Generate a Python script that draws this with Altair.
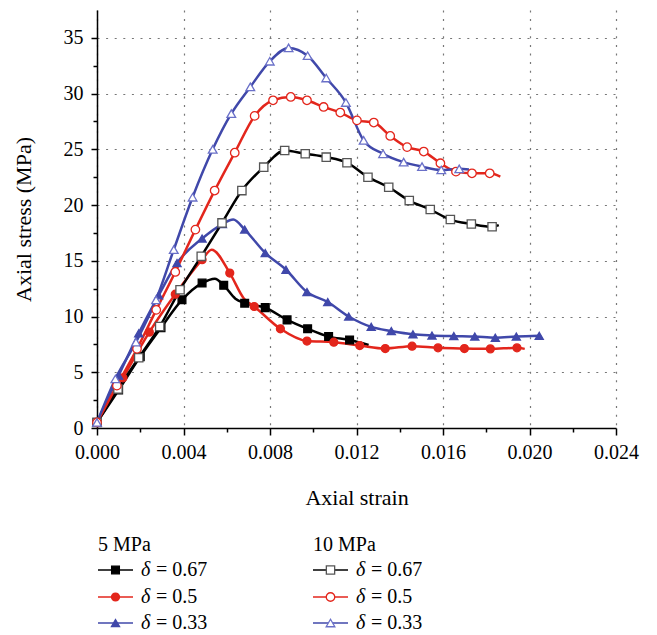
import altair as alt
import pandas as pd

# ---- data (strain, stress MPa); m = 1 where a marker is drawn
s5_067_x = [0.0, 0.001, 0.002, 0.00296, 0.00393, 0.00486, 0.00545, 0.00586, 0.0064, 0.00683, 0.00778, 0.00879, 0.00974, 0.01071, 0.01168, 0.01256]
s5_067_y = [0.5, 3.4, 6.4, 9.0, 11.5, 13.0, 13.4, 12.8, 11.6, 11.2, 10.8, 9.7, 8.9, 8.2, 7.9, 7.45]
s5_067_m = [1, 1, 1, 1, 1, 1, 0, 1, 0, 1, 1, 1, 1, 1, 1, 0]

s5_05_x = [0.0, 0.0012, 0.00242, 0.00362, 0.00486, 0.0053, 0.00614, 0.0068, 0.00727, 0.00848, 0.00971, 0.01095, 0.01215, 0.01333, 0.01457, 0.01577, 0.01699, 0.01819, 0.01942, 0.01978]
s5_05_y = [0.5, 4.5, 8.6, 12.0, 15.1, 16.0, 13.9, 11.6, 10.9, 8.9, 7.8, 7.7, 7.4, 7.13, 7.34, 7.19, 7.13, 7.1, 7.19, 7.1]
s5_05_m = [1, 1, 1, 1, 1, 0, 1, 0, 1, 1, 1, 1, 1, 1, 1, 1, 1, 1, 1, 0]

s5_033_x = [0.0, 0.001, 0.00193, 0.00285, 0.0037, 0.00486, 0.0058, 0.0063, 0.00683, 0.00778, 0.00874, 0.00971, 0.01067, 0.01164, 0.01268, 0.01361, 0.01461, 0.01549, 0.0165, 0.01747, 0.01842, 0.01939, 0.02045]
s5_033_y = [0.5, 4.7, 8.5, 11.9, 14.8, 17.0, 18.3, 18.7, 17.8, 15.7, 14.2, 12.2, 11.3, 10.0, 9.07, 8.7, 8.4, 8.3, 8.24, 8.2, 8.1, 8.2, 8.27]
s5_033_m = [1, 1, 1, 1, 1, 1, 1, 0, 1, 1, 1, 1, 1, 1, 1, 1, 1, 1, 1, 1, 1, 1, 1]

s10_067_x = [0.0, 0.00097, 0.00193, 0.0029, 0.00384, 0.00482, 0.00578, 0.0067, 0.00771, 0.00868, 0.00963, 0.0106, 0.01156, 0.01253, 0.01349, 0.01444, 0.01541, 0.01634, 0.01731, 0.01827, 0.01858]
s10_067_y = [0.5, 3.5, 6.3, 9.1, 12.4, 15.4, 18.4, 21.3, 23.4, 24.9, 24.6, 24.3, 23.8, 22.5, 21.6, 20.4, 19.6, 18.7, 18.3, 18.05, 18.2]
s10_067_m = [1] * 20 + [0]

s10_05_x = [0.0, 0.00092, 0.00185, 0.00274, 0.00362, 0.00455, 0.00544, 0.00637, 0.00729, 0.00814, 0.00896, 0.00971, 0.01048, 0.01125, 0.01202, 0.0128, 0.01356, 0.01434, 0.01511, 0.01588, 0.0166, 0.01734, 0.01816, 0.01865]
s10_05_y = [0.5, 3.8, 7.1, 10.6, 14.0, 17.8, 21.3, 24.7, 28.0, 29.4, 29.7, 29.4, 28.8, 28.3, 27.6, 27.4, 26.2, 25.2, 24.8, 23.75, 23.0, 22.85, 22.85, 22.55]
s10_05_m = [1] * 23 + [0]

s10_033_x = [0.0, 0.00085, 0.0018, 0.00273, 0.00355, 0.00442, 0.00535, 0.00621, 0.00709, 0.00799, 0.00886, 0.00974, 0.0106, 0.01151, 0.01233, 0.01323, 0.01418, 0.01503, 0.01592, 0.01675, 0.0172]
s10_033_y = [0.5, 4.4, 7.7, 11.5, 16.0, 20.7, 25.0, 28.2, 30.6, 32.9, 34.1, 33.4, 31.4, 29.2, 25.8, 24.6, 23.85, 23.45, 23.15, 23.25, 23.2]
s10_033_m = [1] * 20 + [0]

series_ids = ["5-0.67", "5-0.5", "5-0.33", "10-0.67", "10-0.5", "10-0.33"]
line_colors = ["#000000", "#e3261c", "#4048aa", "#000000", "#e3261c", "#4048aa"]
fill_colors = ["#000000", "#e3261c", "#4048aa", "#ffffff", "#ffffff", "#ffffff"]
stroke_colors = ["#000000", "#e3261c", "#4048aa", "#555555", "#e3261c", "#6a70c8"]
shapes = ["square", "circle", "triangle-up", "square", "circle", "triangle-up"]
sizes = [60, 75, 90, 80, 95, 120]

legend_groups = ["5 MPa", "10 MPa"]
legend_deltas = ["0.67", "0.5", "0.33"]
legend_col_x = [1, 216]
legend_row_y = [535, 560, 587, 613]

x_tick_values = [i * 0.002 for i in range(13)]
y_tick_values = [i * 2.5 for i in range(15)]

FONT = "Liberation Serif"

all_series = [
    (s5_067_x, s5_067_y, s5_067_m),
    (s5_05_x, s5_05_y, s5_05_m),
    (s5_033_x, s5_033_y, s5_033_m),
    (s10_067_x, s10_067_y, s10_067_m),
    (s10_05_x, s10_05_y, s10_05_m),
    (s10_033_x, s10_033_y, s10_033_m),
]
rows = []
for order, (sid, (xs, ys, ms)) in enumerate(zip(series_ids, all_series)):
    for i, (x, y, m) in enumerate(zip(xs, ys, ms)):
        rows.append({"series": sid, "order": order, "i": i, "strain": x, "stress": y, "marker": m})
df = pd.DataFrame(rows)

# legend table
leg_rows = []
for g, (grp, cx) in enumerate(zip(legend_groups, legend_col_x)):
    for r, d in enumerate(legend_deltas):
        sid = series_ids[g * 3 + r]
        leg_rows.append({"series": sid, "x0": cx, "x1": cx + 35, "xm": cx + 17.5,
                         "y": legend_row_y[r + 1], "xd": cx + 43, "xe": cx + 58,
                         "eq": "= " + d, "delta": "δ"})
leg = pd.DataFrame(leg_rows)
leg_titles = pd.DataFrame({"t": legend_groups, "x": legend_col_x, "y": [legend_row_y[0]] * 2})

color_scale = alt.Scale(domain=series_ids, range=line_colors)
fill_scale = alt.Scale(domain=series_ids, range=fill_colors)
stroke_scale = alt.Scale(domain=series_ids, range=stroke_colors)
shape_scale = alt.Scale(domain=series_ids, range=shapes)
size_scale = alt.Scale(domain=series_ids, range=sizes)

x_minor = "round(datum.value*500) % 2 == 1"
y_minor = "round(datum.value*2) % 10 != 0"

x_axis = alt.Axis(
    title="Axial strain", titleFont=FONT, titleFontSize=22, titleFontWeight="normal",
    titlePadding=25, titleColor="#000",
    values=x_tick_values,
    labelExpr=f"{x_minor} ? '' : format(datum.value, '.3f')",
    labelFont=FONT, labelFontSize=20, labelColor="#000", labelPadding=7,
    labelFlush=False, labelOverlap=False,
    domainColor="#000", domainWidth=1.5, tickColor="#000", tickWidth=1.5,
    tickSize={"condition": {"test": x_minor, "value": 4}, "value": 7},
    grid=True, gridColor="#777", gridDash=[2, 6.6], gridWidth=1.2,
    gridOpacity={"condition": {"test": x_minor, "value": 0}, "value": 1},
)
y_axis = alt.Axis(
    title="Axial stress (MPa)", titleFont=FONT, titleFontSize=22, titleFontWeight="normal",
    titlePadding=28, titleColor="#000",
    values=y_tick_values,
    labelExpr=f"{y_minor} ? '' : datum.label",
    labelFont=FONT, labelFontSize=20, labelColor="#000", labelPadding=8,
    labelFlush=False, labelOverlap=False,
    domainColor="#000", domainWidth=1.5, tickColor="#000", tickWidth=1.5,
    tickSize={"condition": {"test": y_minor, "value": 4}, "value": 6},
    grid=True, gridColor="#777", gridDash=[2, 6.6], gridWidth=1.2,
    gridOpacity={"condition": {"test": y_minor, "value": 0}, "value": 1},
)

X = alt.X("strain:Q", scale=alt.Scale(domain=[0, 0.024], nice=False, zero=False), axis=x_axis)
Y = alt.Y("stress:Q", scale=alt.Scale(domain=[0, 37.5], nice=False), axis=y_axis)

lines = alt.Chart(df).mark_line(strokeWidth=2.5, interpolate="monotone").encode(
    x=X, y=Y,
    color=alt.Color("series:N", scale=color_scale, legend=None),
    detail="series:N",
    order="i:Q",
)
points = alt.Chart(df).transform_filter("datum.marker == 1").mark_point(
    filled=False, opacity=1, strokeWidth=1.3
).encode(
    x=X, y=Y,
    fill=alt.Fill("series:N", scale=fill_scale, legend=None),
    stroke=alt.Stroke("series:N", scale=stroke_scale, legend=None),
    shape=alt.Shape("series:N", scale=shape_scale, legend=None),
    size=alt.Size("series:N", scale=size_scale, legend=None),
    order="order:Q",
)
main = alt.layer(lines, points)

lx = alt.X("x0:Q", scale=None, axis=None)
ly = alt.Y("y:Q", scale=None, axis=None)
leg_lines = alt.Chart(leg).mark_rule(strokeWidth=1.5).encode(
    x=lx, x2="x1:Q", y=ly,
    color=alt.Color("series:N", scale=color_scale, legend=None),
)
leg_pts = alt.Chart(leg).mark_point(filled=False, opacity=1, strokeWidth=1.3).encode(
    x=alt.X("xm:Q", scale=None, axis=None), y=ly,
    fill=alt.Fill("series:N", scale=fill_scale, legend=None),
    stroke=alt.Stroke("series:N", scale=stroke_scale, legend=None),
    shape=alt.Shape("series:N", scale=shape_scale, legend=None),
    size=alt.Size("series:N", scale=size_scale, legend=None),
)
leg_delta = alt.Chart(leg).mark_text(font=FONT, fontSize=20, fontStyle="italic", align="left",
                                     baseline="middle", color="#000").encode(
    x=alt.X("xd:Q", scale=None, axis=None), y=ly, text="delta:N")
leg_eq = alt.Chart(leg).mark_text(font=FONT, fontSize=20, align="left",
                                  baseline="middle", color="#000").encode(
    x=alt.X("xe:Q", scale=None, axis=None), y=ly, text="eq:N")
leg_title = alt.Chart(leg_titles).mark_text(font=FONT, fontSize=20, align="left",
                                            baseline="middle", color="#000").encode(
    x=alt.X("x:Q", scale=None, axis=None), y=alt.Y("y:Q", scale=None, axis=None), text="t:N")
legend = alt.layer(leg_lines, leg_pts, leg_delta, leg_eq, leg_title)

chart = alt.layer(main, legend).resolve_scale(x="independent", y="independent").properties(
    width=519, height=418,
    padding={"left": 4, "top": 2, "right": 5, "bottom": 3},
).configure_view(stroke=None)

chart.save("out.html", embed_options={"renderer": "svg", "actions": False})
